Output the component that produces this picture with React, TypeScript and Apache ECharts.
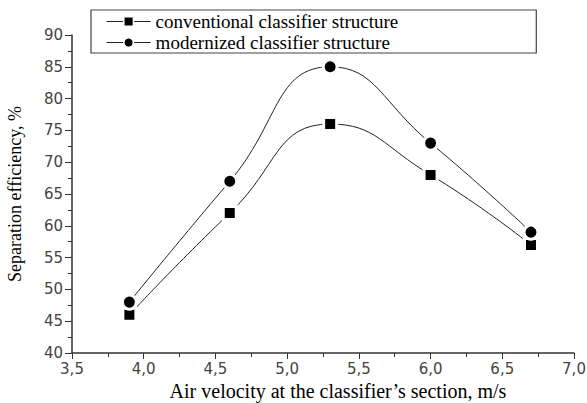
import React, { useEffect, useRef } from "react";
import * as echarts from "echarts";

const airVelocity = [3.9, 4.6, 5.3, 6.0, 6.7];
const conventional = [46, 62, 76, 68, 57];
const modernized = [48, 67, 85, 73, 59];
const seriesNames = ["conventional classifier structure", "modernized classifier structure"];

export default function App() {
  const ref = useRef<HTMLDivElement>(null);
  useEffect(() => {
    if (!ref.current) return;
    const chart = echarts.init(ref.current, null, { renderer: "svg" });
    const axisLabelStyle = { color: "#444", fontFamily: "DejaVu Sans", fontSize: 15 };
    const serif = "Liberation Serif";
    const mk = (name: string, ys: number[], symbol: string, size: number) => ({
      name,
      type: "line",
      data: airVelocity.map((x, i) => [x, ys[i]]),
      smooth: 0.5,
      symbol,
      symbolSize: size,
      lineStyle: { color: "#222", width: 1 },
      itemStyle: { color: "#000", borderColor: "#fff", borderWidth: 3 },
    });
    chart.setOption({
      animation: false,
      backgroundColor: "#fff",
      textStyle: { fontFamily: serif },
      grid: { left: 72, right: 13, top: 35, bottom: 50, containLabel: false, outerBoundsMode: "none" },
      legend: {
        orient: "vertical",
        left: 91,
        top: 10,
        padding: [2, 138, 1, 15],
        itemGap: 2,
        itemWidth: 44,
        itemHeight: 12,
        borderColor: "#444",
        borderWidth: 1.2,
        itemStyle: { borderColor: "#fff", borderWidth: 1.5 },
        lineStyle: { color: "#222", width: 1.2 },
        textStyle: { fontFamily: serif, fontSize: 19, color: "#000" },
        data: seriesNames,
      },
      xAxis: {
        type: "value",
        min: 3.5,
        max: 7.0,
        interval: 0.5,
        name: "Air velocity at the classifier\u2019s section, m/s",
        nameLocation: "middle",
        nameGap: 28,
        nameTextStyle: { fontFamily: serif, fontSize: 20, color: "#000", padding: [0, 0, 0, 30] },
        axisLine: { show: true, lineStyle: { color: "#333", width: 1.5 } },
        axisTick: { show: true, length: 6, lineStyle: { color: "#333" } },
        minorTick: { show: true, splitNumber: 2, length: 4, lineStyle: { color: "#333" } },
        splitLine: { show: false },
        axisLabel: {
          ...axisLabelStyle,
          margin: 8,
          formatter: (v: number) => v.toFixed(1).replace(".", ","),
        },
      },
      yAxis: {
        type: "value",
        min: 40,
        max: 90,
        interval: 5,
        name: "Separation efficiency, %",
        nameLocation: "middle",
        nameGap: 48,
        nameTextStyle: { fontFamily: serif, fontSize: 18, color: "#000" },
        axisLine: { show: true, lineStyle: { color: "#333", width: 1.5 } },
        axisTick: { show: true, length: 7, lineStyle: { color: "#333" } },
        minorTick: { show: true, splitNumber: 2, length: 4, lineStyle: { color: "#333" } },
        splitLine: { show: false },
        axisLabel: { ...axisLabelStyle, margin: 9 },
      },
      series: [mk(seriesNames[0], conventional, "rect", 13), mk(seriesNames[1], modernized, "circle", 14)],
    });
    return () => chart.dispose();
  }, []);
  return <div ref={ref} style={{ width: 587, height: 403, position: "absolute", left: 0, top: 0 }} />;
}
